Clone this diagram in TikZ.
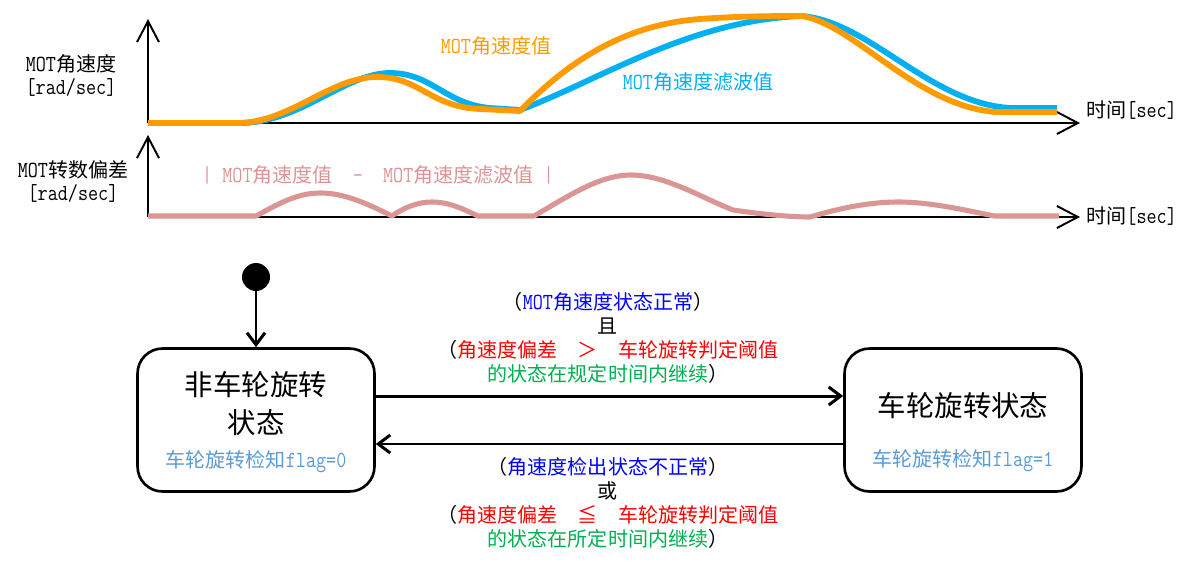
\documentclass[tikz,border=0pt]{standalone}
\usepackage{fontspec}
\setmainfont{Noto Sans CJK SC}
\newfontfamily\mono[Scale=1.15,FakeStretch=0.85]{Latin Modern Mono}
\usepackage{xcolor}
\usepackage{tikz}
\usetikzlibrary{arrows.meta,positioning,calc}
\definecolor{SpinOrange}{HTML}{FF9B00}
\definecolor{SpinBlue}{HTML}{00B0F0}
\definecolor{SpinPink}{HTML}{D99694}
\definecolor{CondBlue}{HTML}{0000FF}
\definecolor{CondRed}{HTML}{FF0000}
\definecolor{CondGreen}{HTML}{00B050}
\definecolor{FlagBlue}{HTML}{5B9BD5}

\begin{document}
\begin{tikzpicture}[x=0.02cm,y=-0.02cm,
  axis/.style={-{Straight Barb[length=4.2mm,width=4.4mm]},line width=1.1pt,draw=black},
  trace/.style={line width=3.3pt,line join=round},
  txt/.style={font=\fontsize{11.4}{13.1}\selectfont,align=center,inner sep=0pt},
  cond/.style={font=\fontsize{11.4}{13.8}\selectfont,align=center,inner sep=0pt},
  state/.style={draw=black,line width=1.5pt,rounded corners=5mm,minimum width=4.74cm,minimum height=2.86cm,fill=white},
  statetext/.style={font=\fontsize{16.2}{21.6}\selectfont,align=center,inner sep=0pt},
  flagtext/.style={font=\fontsize{11.4}{13}\selectfont,text=FlagBlue,inner sep=0pt},
  initdot/.style={circle,fill=black,minimum size=5.6mm,inner sep=0pt},
  trans/.style={-{Straight Barb[length=2.4mm,width=3.6mm]},line width=1.7pt,draw=black}
]
\useasboundingbox (0,0) rectangle (1196,565);

% upper chart: angular speed
\coordinate (o1) at (148,123);
\draw[axis] (o1) -- (148,19);
\draw[axis] (o1) -- (1080,123);
\node[txt] (yone) at (71,75) {{\mono MOT}角速度\\{\mono [rad/sec]}};
\node[txt,anchor=west] (tone) at (1086,110) {时间{\mono [sec]}};
\draw[trace,SpinBlue] (240,123) .. controls (300,123) and (345,73) .. (390,73)
  .. controls (432,73) and (445,104) .. (490,108) -- (520,110)
  .. controls (600,80) and (690,20) .. (802,16)
  .. controls (870,22) and (930,103) .. (1010,108) -- (1057,108);
\draw[trace,SpinOrange] (148,123) -- (237,123) .. controls (290,123) and (330,77) .. (377,77)
  .. controls (420,77) and (430,107) .. (480,109) -- (520,111)
  .. controls (565,65) and (620,25) .. (700,19)
  .. controls (740,16) and (780,16) .. (802,16)
  .. controls (855,25) and (915,105) .. (995,112) -- (1057,112);
\node[txt,text=SpinOrange] (lraw) at (496,46) {{\mono MOT}角速度值};
\node[txt,text=SpinBlue] (lfilt) at (698,82) {{\mono MOT}角速度滤波值};

% lower chart: deviation
\coordinate (o2) at (148,217);
\draw[axis] (o2) -- (148,135);
\draw[axis] (o2) -- (1080,217);
\node[txt] (ytwo) at (73,182) {{\mono MOT}转数偏差\\{\mono [rad/sec]}};
\node[txt,anchor=west] (ttwo) at (1086,216) {时间{\mono [sec]}};
\draw[trace,SpinPink,line width=2.9pt] (148,216) -- (256,216)
  .. controls (285,200) and (300,193) .. (321,193)
  .. controls (345,193) and (370,205) .. (392,216)
  .. controls (405,207) and (418,202) .. (432,202)
  .. controls (450,202) and (465,210) .. (478,216) -- (534,216)
  .. controls (570,195) and (600,175) .. (631,175)
  .. controls (665,175) and (700,197) .. (733,210)
  .. controls (760,214) and (790,217) .. (810,217)
  .. controls (840,208) and (870,202) .. (898,202)
  .. controls (930,202) and (965,210) .. (994,216) -- (1059,216);
\node[txt,text=SpinPink] (ldiff) at (378,175) {{\mono|\ MOT}角速度值{\mono\ \ -\ \ MOT}角速度滤波值{\mono\ |}};

% state machine
\node[state] (idle) at (256,420) {};
\node[state] (spin) at (963,420) {};
\node[statetext] (idlename) at ([yshift=3.2mm]idle.center) {非车轮旋转\\状态};
\node[statetext] (spinname) at ([yshift=2.8mm]spin.center) {车轮旋转状态};
\node[flagtext] (idleflag) at ([yshift=-8.4mm]idle.center) {车轮旋转检知{\mono flag=0}};
\node[flagtext] (spinflag) at ([yshift=-8.2mm]spin.center) {车轮旋转检知{\mono flag=1}};
\node[initdot] (init) at (256,277) {};
\draw[trans] (init) -- (idle.north);
\draw[trans] ([yshift=4.8mm]idle.east) -- ([yshift=4.8mm]spin.west);
\draw[trans] ([yshift=-4.8mm]spin.west) -- ([yshift=-4.8mm]idle.east);
\node[cond] (enter) at (608,338) {（\textcolor{CondBlue}{{\mono MOT}角速度状态正常}）\\且\\（\textcolor{CondRed}{角速度偏差　＞　车轮旋转判定阈值}\\\textcolor{CondGreen}{的状态在规定时间内继续}）};
\node[cond] (leave) at (608,503) {（\textcolor{CondBlue}{角速度检出状态不正常}）\\或\\（\textcolor{CondRed}{角速度偏差　≦　车轮旋转判定阈值}\\\textcolor{CondGreen}{的状态在所定时间内继续}）};
\end{tikzpicture}
\end{document}
